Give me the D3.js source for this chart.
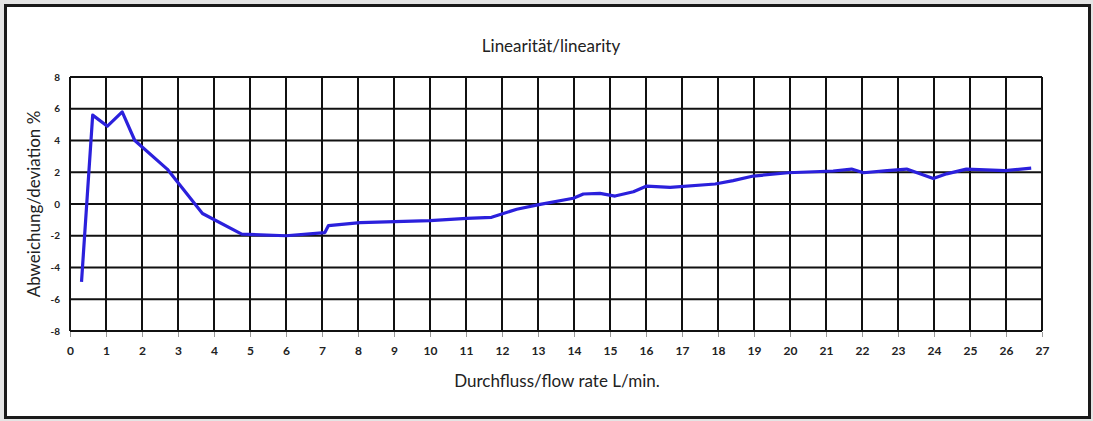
<!DOCTYPE html>
<html>
<head>
<meta charset="utf-8">
<script src="https://cdn.jsdelivr.net/npm/d3@7"></script>
<style>
  html, body { margin: 0; padding: 0; background: #e4e4e4; }
  text { font-family: "Lato", "DejaVu Sans", sans-serif; fill: #222; }
</style>
</head>
<body>
<div id="chart"></div>
<script>
// flow rate (L/min) and deviation (%)
const flow = [0.32, 0.63, 1.04, 1.45, 1.8, 2.7, 3.68, 4.77, 6.0, 7.08, 7.18, 8.06, 10.0, 11.02, 11.71,
  12.41, 13.06, 13.98, 14.26, 14.72, 15.14, 15.65, 16.02, 16.67, 17.92, 18.42, 18.98, 19.95,
  21.2, 21.71, 22.04, 22.7, 23.24, 23.98, 24.35, 24.9, 25.97, 26.7]
const deviation = [-4.9, 5.6, 4.9, 5.8, 4.0, 2.2, -0.6, -1.9, -2.0, -1.8, -1.36, -1.17, -1.05, -0.9, -0.84,
  -0.33, -0.02, 0.36, 0.63, 0.67, 0.5, 0.77, 1.13, 1.05, 1.26, 1.47, 1.76, 1.97,
  2.08, 2.2, 1.97, 2.1, 2.2, 1.6, 1.9, 2.2, 2.1, 2.26]

const xTicks = d3.range(0, 28)
const yTicks = d3.range(-8, 9, 2)

const title = 'Linearität/linearity'
const xTitle = 'Durchfluss/flow rate L/min.'
const yTitle = 'Abweichung/deviation %'

const data = flow.map((f, i) => ({ x: f, y: deviation[i] }))

const svgWidth = 1093
const svgHeight = 421

const margin = { left: 70, right: 51, top: 77, bottom: 90 }
const width = svgWidth - margin.left - margin.right
const height = svgHeight - margin.top - margin.bottom

const root = d3.select('#chart')
  .append('svg')
  .attr('width', svgWidth)
  .attr('height', svgHeight)

// outer frame
root.append('rect')
  .attr('x', 5.5)
  .attr('y', 5.5)
  .attr('width', 1084)
  .attr('height', 412)
  .attr('fill', 'white')
  .attr('stroke', '#1a1a1a')
  .attr('stroke-width', 3)

const svg = root.append('g')
  .attr('transform', `translate(${margin.left},${margin.top})`)

////////////// scales //////////////
const xScale = d3.scaleLinear().domain([0, 27]).range([0, width])
const yScale = d3.scaleLinear().domain([-8, 8]).range([height, 0])

////////////// grid //////////////
svg.append('g')
  .selectAll('line')
  .data(xTicks)
  .join('line')
  .attr('x1', d => xScale(d))
  .attr('x2', d => xScale(d))
  .attr('y1', 0)
  .attr('y2', height)
  .attr('stroke', '#111')
  .attr('stroke-width', 2)

svg.append('g')
  .selectAll('line')
  .data(yTicks)
  .join('line')
  .attr('x1', 0)
  .attr('x2', width)
  .attr('y1', d => yScale(d))
  .attr('y2', d => yScale(d))
  .attr('stroke', '#111')
  .attr('stroke-width', 2)

////////////// axes //////////////
const xAxis = svg.append('g')
  .attr('transform', `translate(0,${height + 1})`)
  .call(d3.axisBottom(xScale).tickValues(xTicks).tickSize(5).tickPadding(9).tickFormat(d => String(d)))
xAxis.select('.domain').remove()
xAxis.selectAll('.tick line').attr('stroke', '#999')
xAxis.selectAll('text').attr('font-size', 12).attr('font-weight', 'bold').attr('fill', '#333')

const yAxis = svg.append('g')
  .call(d3.axisLeft(yScale).tickValues(yTicks).tickSize(0).tickPadding(10).tickFormat(d => String(d)))
yAxis.select('.domain').remove()
yAxis.selectAll('text').attr('font-size', 10).attr('font-weight', 'bold').attr('fill', '#333')

////////////// line //////////////
const line = d3.line()
  .x(d => xScale(d.x))
  .y(d => yScale(d.y))

svg.append('path')
  .datum(data)
  .attr('d', line)
  .attr('fill', 'none')
  .attr('stroke', '#2b20dc')
  .attr('stroke-width', 3.2)
  .attr('stroke-linejoin', 'round')

////////////// titles //////////////
root.append('text')
  .text(title)
  .attr('x', 551)
  .attr('y', 52)
  .attr('text-anchor', 'middle')
  .attr('font-size', 17)

root.append('text')
  .text(xTitle)
  .attr('x', 557)
  .attr('y', 387)
  .attr('text-anchor', 'middle')
  .attr('font-size', 17)

root.append('text')
  .text(yTitle)
  .attr('text-anchor', 'middle')
  .attr('font-size', 17)
  .attr('transform', `translate(40,${margin.top + height / 2}) rotate(-90)`)
</script>
</body>
</html>
